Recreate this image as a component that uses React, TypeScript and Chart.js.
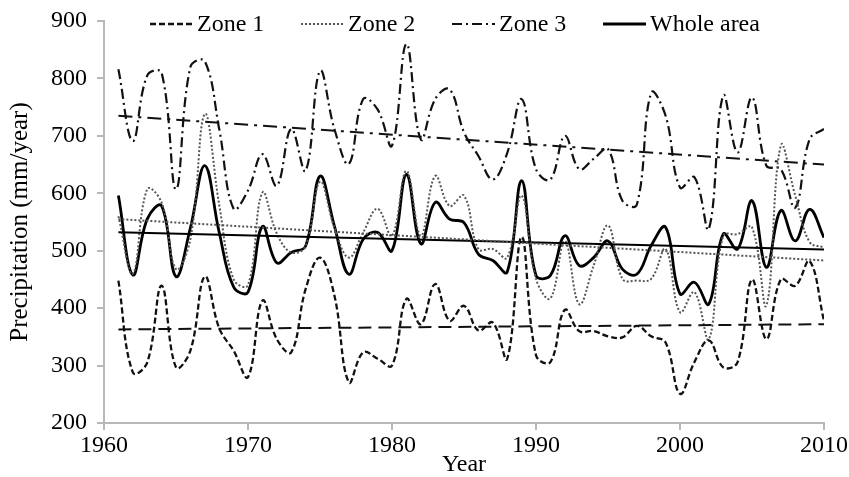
import React, { useEffect, useRef } from "react";
import { Chart, registerables } from "chart.js";

Chart.register(...registerables);

const years = Array.from({ length: 50 }, (_, i) => 1961 + i);

const zone1 = [448, 288, 305, 439, 297, 326, 455, 365, 326, 280,
  413, 346, 323, 433, 488, 422, 271, 323, 312, 300,
  416, 372, 442, 378, 404, 361, 375, 312, 524, 318,
  306, 397, 360, 360, 351, 349, 369, 351, 340, 251,
  306, 344, 297, 306, 450, 346, 450, 439, 482, 378];

const zone2 = [560, 460, 607, 584, 468, 520, 738, 580, 450, 440,
  601, 530, 497, 508, 620, 540, 488, 532, 573, 526,
  639, 526, 630, 578, 596, 503, 503, 488, 596, 451,
  417, 517, 407, 474, 544, 451, 448, 451, 503, 393,
  428, 346, 526, 529, 541, 405, 683, 596, 515, 506];

const zone3 = [816, 691, 805, 810, 607, 820, 830, 712, 573, 605,
  668, 613, 712, 639, 813, 712, 651, 764, 746, 683,
  860, 694, 764, 781, 706, 665, 624, 670, 764, 642,
  624, 700, 642, 660, 677, 587, 580, 775, 735, 610,
  628, 538, 770, 671, 767, 648, 642, 575, 694, 712];

const whole = [596, 458, 555, 578, 455, 540, 648, 532, 437, 428,
  542, 479, 497, 508, 630, 543, 459, 520, 532, 500,
  633, 512, 584, 555, 549, 494, 483, 463, 622, 457,
  457, 526, 474, 488, 517, 468, 459, 509, 541, 425,
  445, 407, 529, 503, 587, 471, 570, 517, 572, 523];

const trendYears = [1961, 2010];
const trend1 = [363, 372];
const trend2 = [555, 483];
const trend3 = [735, 650];
const trendWhole = [532, 502];

const seriesLabels = ["Zone 1", "Zone 2", "Zone 3", "Whole area"];
const xTicks = [1960, 1970, 1980, 1990, 2000, 2010];

const FONT = "'Liberation Serif', 'Times New Roman', serif";
const FS = 24;

const styles = [
  { color: "#111", width: 2.3, dash: [6, 3] },
  { color: "#555", width: 2, dash: [2, 2] },
  { color: "#111", width: 2.2, dash: [10, 4, 2, 4] },
  { color: "#000", width: 2.8, dash: [] as number[] },
];
const trendStyles = [
  { color: "#111", width: 2, dash: [13, 7] },
  { color: "#555", width: 2, dash: [2, 2] },
  { color: "#111", width: 2, dash: [14, 6, 3, 6] },
  { color: "#000", width: 2, dash: [] as number[] },
];

const legendPlugin = {
  id: "customLegend",
  afterDraw(chart: any) {
    const ctx = chart.ctx;
    const area = chart.chartArea;
    ctx.save();
    ctx.font = `${FS}px ${FONT}`;
    ctx.textBaseline = "middle";
    ctx.fillStyle = "#000";
    const y = area.top + 3;
    let x = area.left + 46;
    seriesLabels.forEach((label, i) => {
      const st = styles[i];
      ctx.strokeStyle = st.color;
      ctx.lineWidth = st.width;
      ctx.setLineDash(st.dash);
      ctx.beginPath();
      ctx.moveTo(x, y);
      ctx.lineTo(x + 43, y);
      ctx.stroke();
      ctx.setLineDash([]);
      ctx.fillText(label, x + 47, y + 1);
      x += 151;
    });
    ctx.restore();
  },
};

export default function App() {
  const ref = useRef<HTMLCanvasElement | null>(null);
  useEffect(() => {
    if (!ref.current) return;
    const series = [zone1, zone2, zone3, whole];
    const trends = [trend1, trend2, trend3, trendWhole];
    const datasets: any[] = [];
    trends.forEach((t, i) => {
      datasets.push({
        label: seriesLabels[i] + " trend",
        data: trendYears.map((yr, j) => ({ x: yr, y: t[j] })),
        borderColor: trendStyles[i].color,
        borderWidth: trendStyles[i].width,
        borderDash: trendStyles[i].dash,
        pointRadius: 0,
        tension: 0,
        fill: false,
      });
    });
    series.forEach((s, i) => {
      datasets.push({
        label: seriesLabels[i],
        data: years.map((yr, j) => ({ x: yr, y: s[j] })),
        borderColor: styles[i].color,
        borderWidth: styles[i].width,
        borderDash: styles[i].dash,
        pointRadius: 0,
        tension: 0.4,
        fill: false,
      });
    });
    const chart = new Chart(ref.current, {
      type: "line",
      data: { datasets },
      plugins: [legendPlugin],
      options: {
        animation: false,
        responsive: false,
        layout: { padding: { top: 21, right: 25, left: 0, bottom: 0 } },
        plugins: { legend: { display: false }, tooltip: { enabled: false } },
        scales: {
          x: {
            type: "linear",
            min: 1960,
            max: 2010,
            afterBuildTicks: (scale: any) => {
              scale.ticks = xTicks.map((v) => ({ value: v }));
            },
            afterFit: (scale: any) => {
              scale.height = 54;
              scale.paddingLeft = 0;
              scale.paddingRight = 0;
            },
            ticks: {
              callback: (v: any) => String(v),
              color: "#000",
              font: { family: FONT, size: FS, lineHeight: 1 },
              padding: 4,
              maxRotation: 0,
            },
            grid: {
              drawOnChartArea: false,
              drawTicks: true,
              tickLength: 7,
              color: "#b8b8b8",
              lineWidth: 2,
            },
            border: { color: "#b8b8b8", width: 2 },
            title: {
              display: true,
              text: "Year",
              color: "#000",
              font: { family: FONT, size: FS, lineHeight: 1 },
              padding: { top: 0, bottom: 0 },
            },
          },
          y: {
            min: 200,
            max: 900,
            afterFit: (scale: any) => {
              scale.width = 104;
              scale.paddingTop = 0;
              scale.paddingBottom = 0;
            },
            ticks: {
              stepSize: 100,
              color: "#000",
              font: { family: FONT, size: FS },
              padding: 10,
            },
            grid: {
              drawOnChartArea: false,
              drawTicks: true,
              tickLength: 7,
              color: "#b8b8b8",
              lineWidth: 2,
            },
            border: { color: "#b8b8b8", width: 2 },
            title: {
              display: true,
              text: "Precipitation (mm/year)",
              color: "#000",
              font: { family: FONT, size: 25, lineHeight: 1 },
              padding: { top: 8, bottom: 0 },
            },
          },
        },
      },
    });
    return () => chart.destroy();
  }, []);
  return (
    <div style={{ position: "absolute", left: 0, top: 0, width: 849, height: 477, background: "#fff" }}>
      <canvas ref={ref} width={849} height={477} style={{ width: 849, height: 477, display: "block" }} />
    </div>
  );
}
